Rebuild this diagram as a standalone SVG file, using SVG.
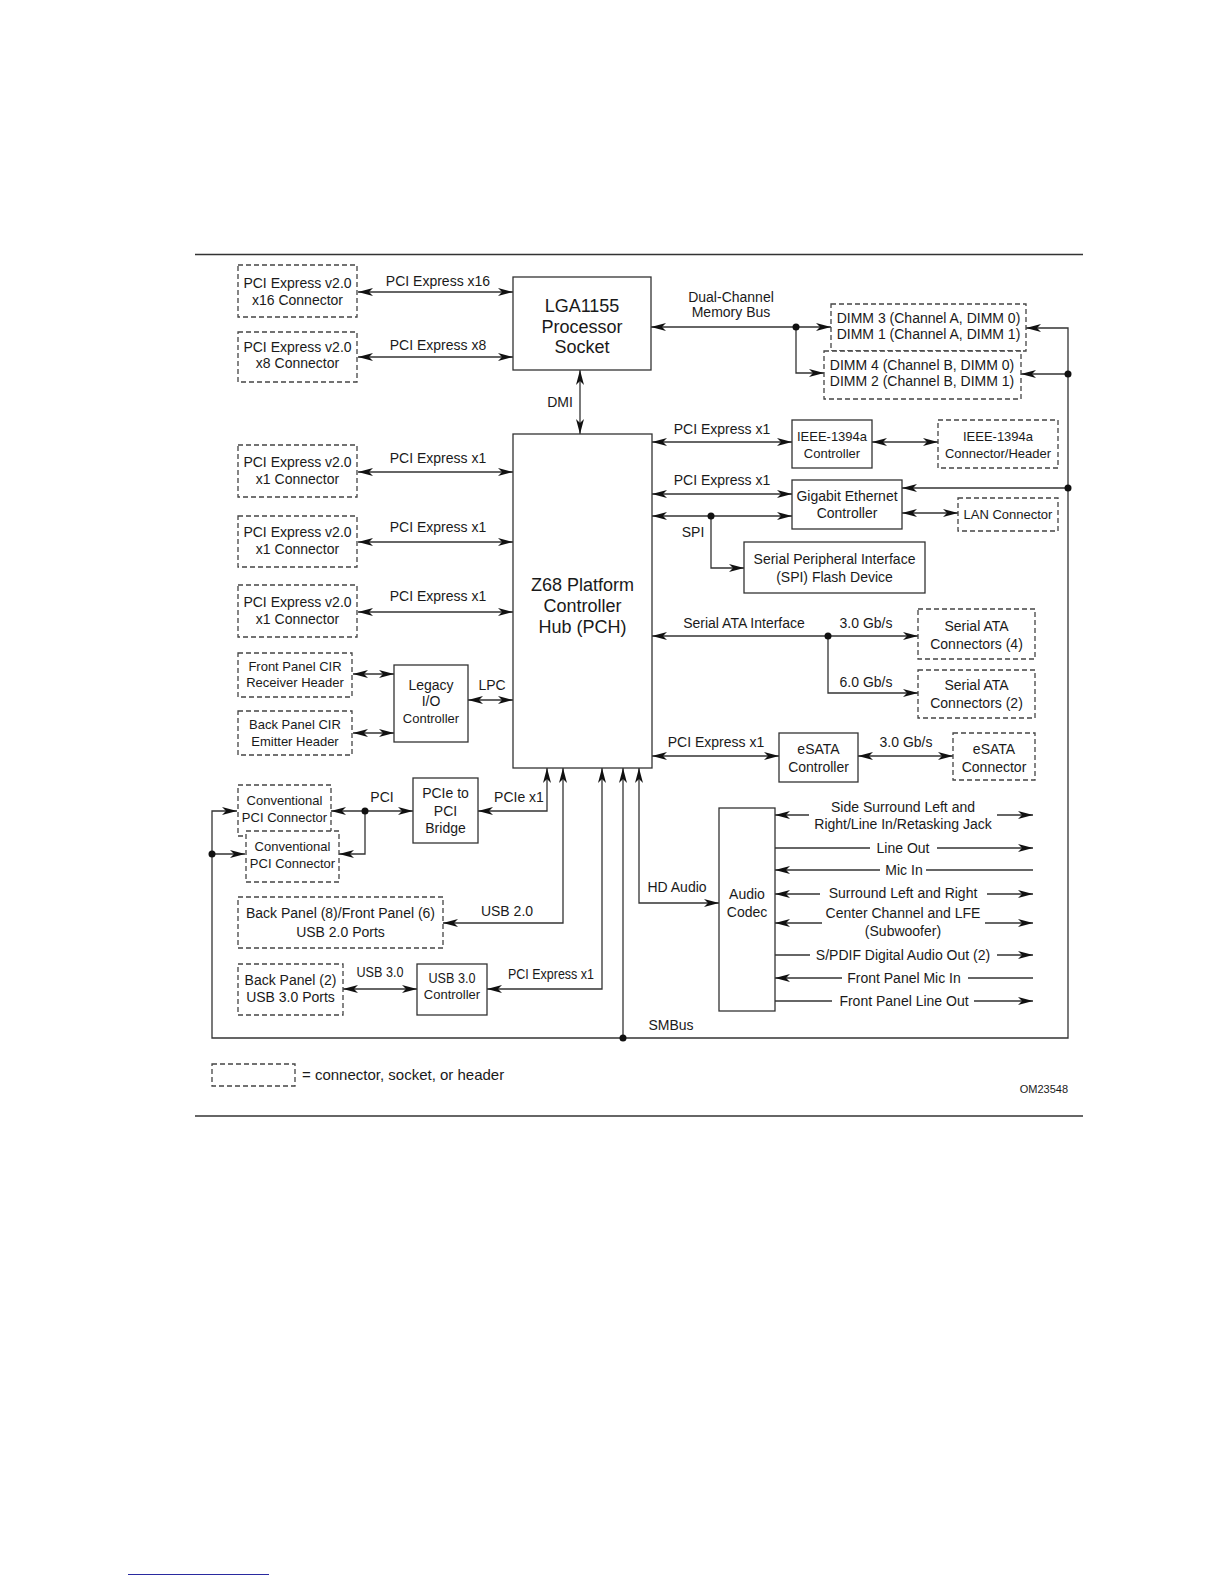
<svg xmlns="http://www.w3.org/2000/svg" width="1224" height="1584" viewBox="0 0 1224 1584">
<style>
.b{fill:#fff;stroke:#333;stroke-width:1.3}
.d{fill:#fff;stroke:#444;stroke-width:1.3;stroke-dasharray:5 3}
.c{fill:none;stroke:#333;stroke-width:1.3}
.ab{marker-start:url(#a);marker-end:url(#a)}
.ae{marker-end:url(#a)}
.as{marker-start:url(#a)}
.dot{fill:#111}
text{font-family:"Liberation Sans",Arial,sans-serif;font-size:14px;fill:#1a1a1a;text-anchor:middle}
.big{font-size:18px}
.s{font-size:13px}
</style>
<defs>
<marker id="a" markerUnits="userSpaceOnUse" markerWidth="16" markerHeight="10" refX="15" refY="5" orient="auto-start-reverse" viewBox="0 0 16 10">
<path d="M0,1 L15,5 L0,9 L4,5 Z" fill="#111"/>
</marker>
</defs>
<rect width="1224" height="1584" fill="#fff"/>
<line x1="195" y1="254.5" x2="1083" y2="254.5" stroke="#333" stroke-width="1.4"/>
<line x1="195" y1="1116" x2="1083" y2="1116" stroke="#333" stroke-width="1.4"/>
<line x1="128" y1="1574.5" x2="269" y2="1574.5" stroke="#2a2aa0" stroke-width="1"/>

<g id="connectors">
<path class="c ab" d="M358,292 H513"/>
<path class="c ab" d="M358,357 H513"/>
<path class="c ab" d="M651,327 H831"/>
<path class="c ae" d="M796,327 V373 H824"/>
<path class="c ab" d="M580,370 V434"/>
<path class="c ab" d="M652,442 H792"/>
<path class="c ab" d="M872,442 H938"/>
<path class="c ab" d="M652,494 H792"/>
<path class="c ab" d="M652,516 H792"/>
<path class="c ae" d="M711,516 V568 H744"/>
<path class="c ab" d="M902,513 H958"/>
<path class="c ab" d="M237,811 H212 V1038 H1068 V328 H1026"/>
<path class="c ae" d="M1068,374 H1021"/>
<path class="c ae" d="M1068,488 H902"/>
<path class="c ae" d="M212,854 H245"/>
<path class="c ae" d="M623,1038 V768"/>
<path class="c ab" d="M358,472 H513"/>
<path class="c ab" d="M358,542 H513"/>
<path class="c ab" d="M358,612 H513"/>
<path class="c ab" d="M353,674 H394"/>
<path class="c ab" d="M353,733 H394"/>
<path class="c ab" d="M468,700 H513"/>
<path class="c ab" d="M652,636 H918"/>
<path class="c ae" d="M828,636 V693 H918"/>
<path class="c ab" d="M652,756 H779"/>
<path class="c ab" d="M858,756 H953"/>
<path class="c ab" d="M331,811 H413"/>
<path class="c ae" d="M365,811 V854 H339"/>
<path class="c ab" d="M478,811 H547 V768"/>
<path class="c ab" d="M443,923 H563 V768"/>
<path class="c ab" d="M343,989 H417"/>
<path class="c ab" d="M487,989 H602 V768"/>
<path class="c ab" d="M639,768 V903 H719"/>
<path class="c as" d="M775,815 H809"/><path class="c ae" d="M997,815 H1033"/>
<path class="c" d="M775,848 H870"/><path class="c ae" d="M937,848 H1033"/>
<path class="c as" d="M775,870 H880"/><path class="c" d="M926,870 H1033"/>
<path class="c as" d="M775,894 H820"/><path class="c ae" d="M987,894 H1033"/>
<path class="c as" d="M775,923 H822"/><path class="c ae" d="M985,923 H1033"/>
<path class="c" d="M775,955 H810"/><path class="c ae" d="M997,955 H1033"/>
<path class="c as" d="M775,978 H842"/><path class="c" d="M968,978 H1033"/>
<path class="c" d="M775,1001 H832"/><path class="c ae" d="M974,1001 H1033"/>
<circle class="dot" cx="796" cy="327" r="3.5"/>
<circle class="dot" cx="711" cy="516" r="3.5"/>
<circle class="dot" cx="1068" cy="374" r="3.5"/>
<circle class="dot" cx="1068" cy="488" r="3.5"/>
<circle class="dot" cx="828" cy="636" r="3.5"/>
<circle class="dot" cx="365" cy="811" r="3.5"/>
<circle class="dot" cx="212" cy="854" r="3.5"/>
<circle class="dot" cx="623" cy="1038" r="3.5"/>
<text x="438" y="286">PCI Express x16</text>
<text x="438" y="350">PCI Express x8</text>
<text x="731" y="302">Dual-Channel</text>
<text x="731" y="317">Memory Bus</text>
<text x="560" y="407">DMI</text>
<text x="722" y="434">PCI Express x1</text>
<text x="722" y="485">PCI Express x1</text>
<text x="693" y="537">SPI</text>
<text x="438" y="463">PCI Express x1</text>
<text x="438" y="532">PCI Express x1</text>
<text x="438" y="601">PCI Express x1</text>
<text x="492" y="690">LPC</text>
<text x="744" y="628">Serial ATA Interface</text>
<text x="866" y="628">3.0 Gb/s</text>
<text x="866" y="687">6.0 Gb/s</text>
<text x="716" y="747">PCI Express x1</text>
<text x="906" y="747">3.0 Gb/s</text>
<text x="382" y="802">PCI</text>
<text x="519" y="802">PCIe x1</text>
<text x="677" y="892">HD Audio</text>
<text x="507" y="916">USB 2.0</text>
<text x="380" y="977" textLength="47" lengthAdjust="spacingAndGlyphs">USB 3.0</text>
<text x="551" y="979" textLength="86" lengthAdjust="spacingAndGlyphs">PCI Express x1</text>
<text x="671" y="1030">SMBus</text>
<text x="903" y="812">Side Surround Left and</text>
<text x="903" y="829">Right/Line In/Retasking Jack</text>
<text x="903" y="853">Line Out</text>
<text x="904" y="875">Mic In</text>
<text x="903" y="898">Surround Left and Right</text>
<text x="903" y="918">Center Channel and LFE</text>
<text x="903" y="936">(Subwoofer)</text>
<text x="903" y="960">S/PDIF Digital Audio Out (2)</text>
<text x="904" y="983">Front Panel Mic In</text>
<text x="904" y="1006">Front Panel Line Out</text>
</g>

<g id="n_x16"><rect class="d" x="238" y="265" width="119" height="52"/><text x="297.5" y="288">PCI Express v2.0</text><text x="297.5" y="305">x16 Connector</text></g>
<g id="n_x8"><rect class="d" x="238" y="332" width="119" height="50"/><text x="297.5" y="352">PCI Express v2.0</text><text x="297.5" y="368">x8 Connector</text></g>
<g id="n_cpu"><rect class="b" x="513" y="277" width="138" height="93"/><text class="big" x="582" y="312">LGA1155</text><text class="big" x="582" y="333">Processor</text><text class="big" x="582" y="353">Socket</text></g>
<g id="n_dimm3"><rect class="d" x="831" y="304" width="195" height="47"/><text x="928.5" y="323">DIMM 3 (Channel A, DIMM 0)</text><text x="928.5" y="339">DIMM 1 (Channel A, DIMM 1)</text></g>
<g id="n_dimm4"><rect class="d" x="824" y="351" width="197" height="48"/><text x="922" y="370">DIMM 4 (Channel B, DIMM 0)</text><text x="922" y="386">DIMM 2 (Channel B, DIMM 1)</text></g>
<g id="n_pch"><rect class="b" x="513" y="434" width="139" height="334"/><text class="big" x="582.5" y="591">Z68 Platform</text><text class="big" x="582.5" y="612">Controller</text><text class="big" x="582.5" y="633">Hub (PCH)</text></g>
<g id="n_ieee"><rect class="b" x="792" y="420" width="80" height="48"/><text class="s" x="832" y="441">IEEE-1394a</text><text class="s" x="832" y="458">Controller</text></g>
<g id="n_ieeeconn"><rect class="d" x="938" y="420" width="120" height="48"/><text class="s" x="998" y="441">IEEE-1394a</text><text class="s" x="998" y="458">Connector/Header</text></g>
<g id="n_gbe"><rect class="b" x="792" y="480" width="110" height="49"/><text x="847" y="501">Gigabit Ethernet</text><text x="847" y="518">Controller</text></g>
<g id="n_lan"><rect class="d" x="958" y="498" width="100" height="33"/><text class="s" x="1008" y="519">LAN Connector</text></g>
<g id="n_spi"><rect class="b" x="744" y="542" width="181" height="51"/><text x="834.5" y="564">Serial Peripheral Interface</text><text x="834.5" y="582">(SPI) Flash Device</text></g>
<g id="n_x1a"><rect class="d" x="238" y="445" width="119" height="52"/><text x="297.5" y="466.5">PCI Express v2.0</text><text x="297.5" y="484">x1 Connector</text></g>
<g id="n_x1b"><rect class="d" x="238" y="516" width="119" height="51"/><text x="297.5" y="537">PCI Express v2.0</text><text x="297.5" y="554">x1 Connector</text></g>
<g id="n_x1c"><rect class="d" x="238" y="585" width="119" height="52"/><text x="297.5" y="607">PCI Express v2.0</text><text x="297.5" y="624">x1 Connector</text></g>
<g id="n_fpcir"><rect class="d" x="238" y="653" width="114" height="44"/><text class="s" x="295" y="671">Front Panel CIR</text><text class="s" x="295" y="687">Receiver Header</text></g>
<g id="n_bpcir"><rect class="d" x="238" y="711" width="114" height="44"/><text class="s" x="295" y="729">Back Panel CIR</text><text class="s" x="295" y="746">Emitter Header</text></g>
<g id="n_legacy"><rect class="b" x="394" y="665" width="74" height="77"/><text x="431" y="690">Legacy</text><text x="431" y="706">I/O</text><text class="s" x="431" y="723">Controller</text></g>
<g id="n_sata4"><rect class="d" x="918" y="609" width="117" height="50"/><text x="976.5" y="631">Serial ATA</text><text x="976.5" y="649">Connectors (4)</text></g>
<g id="n_sata2"><rect class="d" x="918" y="670" width="117" height="48"/><text x="976.5" y="690">Serial ATA</text><text x="976.5" y="708">Connectors (2)</text></g>
<g id="n_esatactl"><rect class="b" x="779" y="733" width="79" height="49"/><text x="818.5" y="754">eSATA</text><text x="818.5" y="772">Controller</text></g>
<g id="n_esataconn"><rect class="d" x="953" y="733" width="82" height="47"/><text x="994" y="754">eSATA</text><text x="994" y="772">Connector</text></g>
<g id="n_pci1"><rect class="d" x="238" y="785" width="93" height="51"/><text class="s" x="284.5" y="805">Conventional</text><text class="s" x="284.5" y="822">PCI Connector</text></g>
<g id="n_pci2"><rect class="d" x="246" y="831" width="93" height="51"/><text class="s" x="292.5" y="851">Conventional</text><text class="s" x="292.5" y="868">PCI Connector</text></g>
<g id="n_bridge"><rect class="b" x="413" y="778" width="65" height="65"/><text x="445.5" y="798">PCIe to</text><text x="445.5" y="816">PCI</text><text x="445.5" y="833">Bridge</text></g>
<g id="n_usb2"><rect class="d" x="238" y="897" width="205" height="51"/><text x="340.5" y="918">Back Panel (8)/Front Panel (6)</text><text x="340.5" y="937">USB 2.0 Ports</text></g>
<g id="n_usb3p"><rect class="d" x="238" y="964" width="105" height="51"/><text x="290.5" y="985">Back Panel (2)</text><text x="290.5" y="1002">USB 3.0 Ports</text></g>
<g id="n_usb3c"><rect class="b" x="417" y="964" width="70" height="51"/><text x="452" y="983" textLength="47" lengthAdjust="spacingAndGlyphs">USB 3.0</text><text class="s" x="452" y="999">Controller</text></g>
<g id="n_audio"><rect class="b" x="719" y="808" width="56" height="203"/><text x="747" y="899">Audio</text><text x="747" y="917">Codec</text></g>
<g id="legend"><rect class="d" x="212" y="1064" width="83" height="22"/><text x="302" y="1080" style="text-anchor:start;font-size:15px">= connector, socket, or header</text></g>
<text x="1068" y="1093" style="text-anchor:end;font-size:11px">OM23548</text>
</svg>
